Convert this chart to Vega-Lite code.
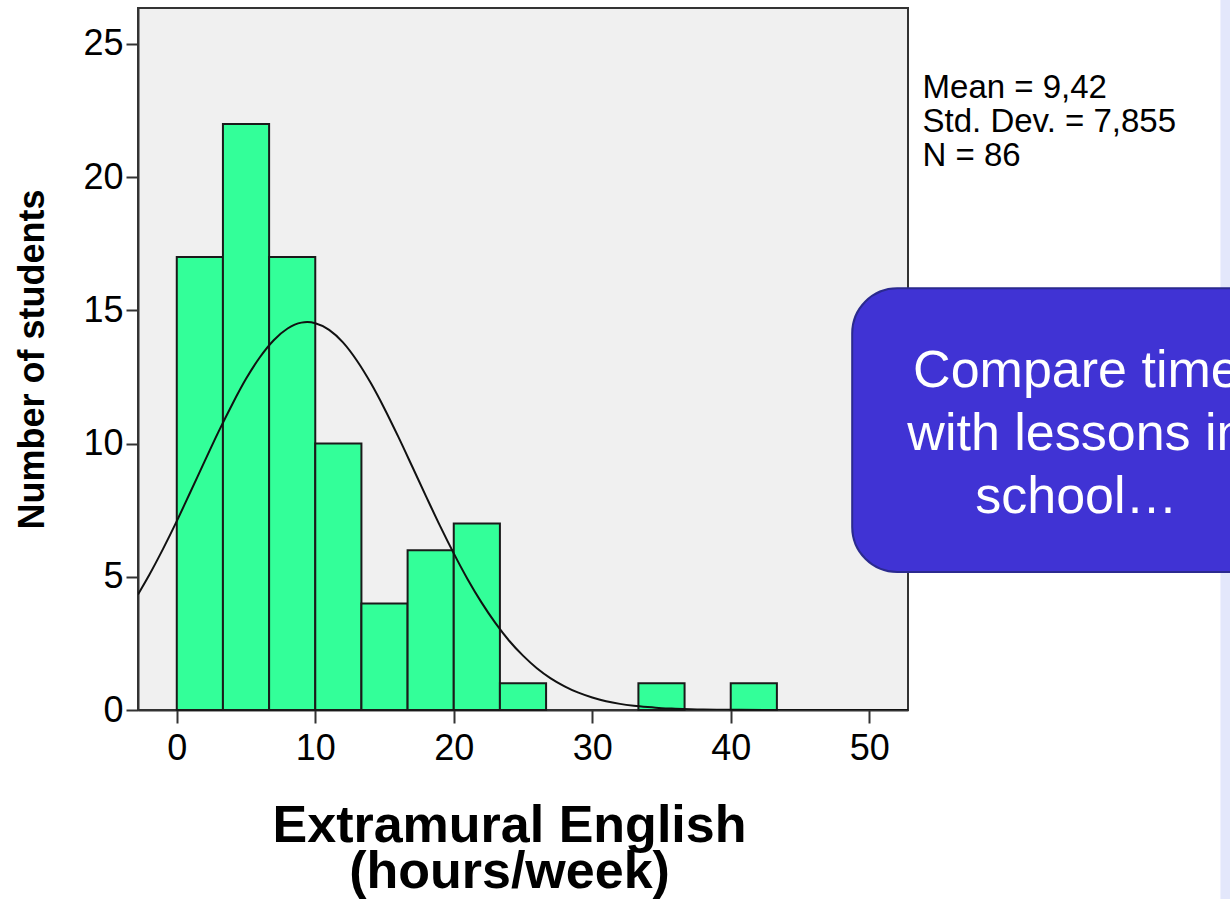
{
  "$schema": "https://vega.github.io/schema/vega-lite/v6.json",
  "width": 770,
  "height": 702,
  "autosize": "none",
  "padding": {"left": 138, "top": 8, "right": 322, "bottom": 189},
  "background": "white",
  "config": {
    "font": "Liberation Sans",
    "view": {"fill": "#F0F0F0", "stroke": "#333333", "strokeWidth": 2},
    "axis": {
      "grid": false,
      "domainColor": "#333333",
      "domainWidth": 2,
      "tickColor": "#333333",
      "tickWidth": 2,
      "labelColor": "#000000",
      "labelFont": "Liberation Sans",
      "titleColor": "#000000",
      "titleFont": "Liberation Sans",
      "titleFontWeight": "bold"
    }
  },
  "datasets": {
    "bins": [
      {"bin_start": 0, "bin_end": 3.333, "count": 17},
      {"bin_start": 3.333, "bin_end": 6.667, "count": 22},
      {"bin_start": 6.667, "bin_end": 10, "count": 17},
      {"bin_start": 10, "bin_end": 13.333, "count": 10},
      {"bin_start": 13.333, "bin_end": 16.667, "count": 4},
      {"bin_start": 16.667, "bin_end": 20, "count": 6},
      {"bin_start": 20, "bin_end": 23.333, "count": 7},
      {"bin_start": 23.333, "bin_end": 26.667, "count": 1},
      {"bin_start": 33.333, "bin_end": 36.667, "count": 1},
      {"bin_start": 40, "bin_end": 43.333, "count": 1}
    ],
    "normal": [
      {"hours": -2.8, "students": 4.34},
      {"hours": -2, "students": 5.06},
      {"hours": -1, "students": 6.04},
      {"hours": 0, "students": 7.09},
      {"hours": 1, "students": 8.2},
      {"hours": 2, "students": 9.32},
      {"hours": 3, "students": 10.43},
      {"hours": 4, "students": 11.47},
      {"hours": 5, "students": 12.43},
      {"hours": 6, "students": 13.24},
      {"hours": 7, "students": 13.88},
      {"hours": 8, "students": 14.32},
      {"hours": 9, "students": 14.54},
      {"hours": 9.42, "students": 14.56},
      {"hours": 10, "students": 14.52},
      {"hours": 11, "students": 14.27},
      {"hours": 12, "students": 13.8},
      {"hours": 13, "students": 13.12},
      {"hours": 14, "students": 12.28},
      {"hours": 15, "students": 11.31},
      {"hours": 16, "students": 10.25},
      {"hours": 17, "students": 9.14},
      {"hours": 18, "students": 8.02},
      {"hours": 19, "students": 6.92},
      {"hours": 20, "students": 5.88},
      {"hours": 21, "students": 4.91},
      {"hours": 22, "students": 4.04},
      {"hours": 23, "students": 3.27},
      {"hours": 24, "students": 2.6},
      {"hours": 25, "students": 2.04},
      {"hours": 26, "students": 1.57},
      {"hours": 27, "students": 1.19},
      {"hours": 28, "students": 0.89},
      {"hours": 29, "students": 0.65},
      {"hours": 30, "students": 0.47},
      {"hours": 31, "students": 0.33},
      {"hours": 32, "students": 0.23},
      {"hours": 33, "students": 0.16},
      {"hours": 34, "students": 0.11},
      {"hours": 35, "students": 0.07},
      {"hours": 36, "students": 0.05},
      {"hours": 38, "students": 0.02},
      {"hours": 40, "students": 0.01},
      {"hours": 43, "students": 0},
      {"hours": 52.8, "students": 0}
    ]
  },
  "layer": [
    {
      "data": {"name": "bins"},
      "mark": {"type": "rect", "fill": "#33FF99", "stroke": "#1A1A1A", "strokeWidth": 2},
      "encoding": {
        "x": {
          "field": "bin_start",
          "type": "quantitative",
          "scale": {"domain": [-2.8, 52.8], "nice": false, "zero": false},
          "axis": {
            "values": [0, 10, 20, 30, 40, 50],
            "tickSize": 13,
            "labelFontSize": 36,
            "labelPadding": 8,
            "title": ["Extramural English", "(hours/week)"],
            "titleFontSize": 52,
            "titleLineHeight": 46,
            "titlePadding": 34,
            "titleX": 371
          }
        },
        "x2": {"field": "bin_end"},
        "y": {
          "field": "count",
          "type": "quantitative",
          "scale": {"domain": [0, 26.35], "nice": false},
          "axis": {
            "values": [0, 5, 10, 15, 20, 25],
            "tickSize": 12,
            "labelFontSize": 36,
            "labelPadding": 3,
            "title": "Number of students",
            "titleFontSize": 36,
            "titlePadding": 31
          }
        },
        "y2": {"datum": 0}
      }
    },
    {
      "data": {"name": "normal"},
      "mark": {"type": "line", "color": "#111111", "strokeWidth": 2, "interpolate": "monotone", "clip": true},
      "encoding": {
        "x": {"field": "hours", "type": "quantitative"},
        "y": {"field": "students", "type": "quantitative"}
      }
    },
    {
      "data": {"values": [{"text": ["Mean = 9,42", "Std. Dev. = 7,855", "N = 86"]}]},
      "mark": {"type": "text", "align": "left", "baseline": "alphabetic", "fontSize": 33, "lineHeight": 34, "color": "#000000"},
      "encoding": {
        "x": {"datum": 53.85},
        "y": {"datum": 22.96},
        "text": {"field": "text"}
      }
    },
    {
      "data": {"values": [{"panel": "slide edge"}]},
      "mark": {"type": "rect", "fill": "#E3E7FB"},
      "encoding": {
        "x": {"datum": 75.36},
        "x2": {"datum": 82},
        "y": {"datum": 26.7},
        "y2": {"datum": -7.2}
      }
    },
    {
      "data": {"values": [{"text": ["Compare time", "with lessons in", "school…"]}]},
      "layer": [
        {
          "mark": {"type": "rect", "fill": "#4033D4", "stroke": "#2B2A8F", "strokeWidth": 2, "cornerRadius": 45},
          "encoding": {
            "x": {"datum": 48.77},
            "x2": {"datum": 81.1},
            "y": {"datum": 15.83},
            "y2": {"datum": 5.18}
          }
        },
        {
          "mark": {"type": "text", "align": "center", "baseline": "alphabetic", "fontSize": 52, "lineHeight": 63, "color": "#FFFFFF"},
          "encoding": {
            "x": {"datum": 64.96},
            "y": {"datum": 12.12},
            "text": {"field": "text"}
          }
        }
      ]
    }
  ]
}
